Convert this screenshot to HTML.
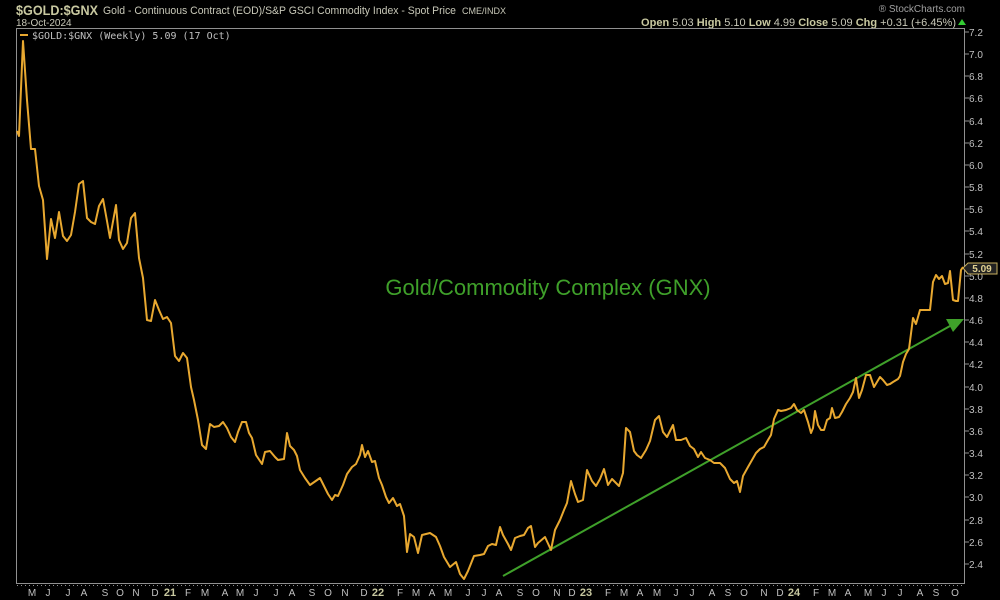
<!DOCTYPE html>
<html><head><meta charset="utf-8"><style>
html,body{margin:0;padding:0;background:#000;width:1000px;height:600px;overflow:hidden}
svg{display:block}
text{font-family:"Liberation Sans",sans-serif}
</style></head><body>
<svg width="1000" height="600" viewBox="0 0 1000 600" xmlns="http://www.w3.org/2000/svg">
<rect width="1000" height="600" fill="#000"/>
<text x="16" y="15" font-size="14" font-weight="bold" fill="#c8c8a0" textLength="82" lengthAdjust="spacingAndGlyphs">$GOLD:$GNX</text>
<text x="103" y="14" font-size="11" fill="#c8c8b8" textLength="353" lengthAdjust="spacingAndGlyphs">Gold - Continuous Contract (EOD)/S&amp;P GSCI Commodity Index - Spot Price</text>
<text x="462" y="14" font-size="9" fill="#c8c8b8">CME/INDX</text>
<text x="16" y="26" font-size="10" fill="#c8c8b8">18-Oct-2024</text>
<text x="965" y="12" font-size="10" fill="#a0a0a0" text-anchor="end">® StockCharts.com</text>
<text x="956" y="26" font-size="11" fill="#c8c8b8" text-anchor="end"><tspan font-weight="bold" fill="#c8c8a0">Open</tspan> 5.03  <tspan font-weight="bold" fill="#c8c8a0">High</tspan> 5.10  <tspan font-weight="bold" fill="#c8c8a0">Low</tspan> 4.99  <tspan font-weight="bold" fill="#c8c8a0">Close</tspan> 5.09  <tspan font-weight="bold" fill="#c8c8a0">Chg</tspan> +0.31 (+6.45%)</text>
<polygon points="958,25 962,19 966,25" fill="#3c3"/>
<rect x="16.5" y="28.5" width="948" height="555" fill="none" stroke="#909090" stroke-width="1"/>
<line x1="20" y1="35" x2="28" y2="35" stroke="#e8a830" stroke-width="2"/>
<text x="32" y="39" font-size="10" fill="#c0c0c0" style="font-family:'DejaVu Sans Mono',monospace">$GOLD:$GNX (Weekly) 5.09 (17 Oct)</text>
<g stroke="#909090">
<line x1="965" y1="32" x2="969" y2="32"/><line x1="965" y1="54" x2="969" y2="54"/><line x1="965" y1="76" x2="969" y2="76"/><line x1="965" y1="98" x2="969" y2="98"/><line x1="965" y1="121" x2="969" y2="121"/><line x1="965" y1="143" x2="969" y2="143"/><line x1="965" y1="165" x2="969" y2="165"/><line x1="965" y1="187" x2="969" y2="187"/><line x1="965" y1="209" x2="969" y2="209"/><line x1="965" y1="231" x2="969" y2="231"/><line x1="965" y1="254" x2="969" y2="254"/><line x1="965" y1="276" x2="969" y2="276"/><line x1="965" y1="298" x2="969" y2="298"/><line x1="965" y1="320" x2="969" y2="320"/><line x1="965" y1="342" x2="969" y2="342"/><line x1="965" y1="364" x2="969" y2="364"/><line x1="965" y1="387" x2="969" y2="387"/><line x1="965" y1="409" x2="969" y2="409"/><line x1="965" y1="431" x2="969" y2="431"/><line x1="965" y1="453" x2="969" y2="453"/><line x1="965" y1="475" x2="969" y2="475"/><line x1="965" y1="497" x2="969" y2="497"/><line x1="965" y1="520" x2="969" y2="520"/><line x1="965" y1="542" x2="969" y2="542"/><line x1="965" y1="564" x2="969" y2="564"/>
</g>
<g font-size="10" fill="#c0c0c0">
<text x="969" y="36">7.2</text><text x="969" y="58">7.0</text><text x="969" y="80">6.8</text><text x="969" y="102">6.6</text><text x="969" y="125">6.4</text><text x="969" y="147">6.2</text><text x="969" y="169">6.0</text><text x="969" y="191">5.8</text><text x="969" y="213">5.6</text><text x="969" y="235">5.4</text><text x="969" y="258">5.2</text><text x="969" y="280">5.0</text><text x="969" y="302">4.8</text><text x="969" y="324">4.6</text><text x="969" y="346">4.4</text><text x="969" y="368">4.2</text><text x="969" y="391">4.0</text><text x="969" y="413">3.8</text><text x="969" y="435">3.6</text><text x="969" y="457">3.4</text><text x="969" y="479">3.2</text><text x="969" y="501">3.0</text><text x="969" y="524">2.8</text><text x="969" y="546">2.6</text><text x="969" y="568">2.4</text>
</g>
<polygon points="963,268 968,263 997,263 997,274 968,274" fill="#222" stroke="#c8b060" stroke-width="1"/>
<text x="982" y="272" font-size="10" font-weight="bold" fill="#e0d090" text-anchor="middle">5.09</text>
<g font-size="10" fill="#c0c0c0" text-anchor="middle">
<text x="32" y="596">M</text><text x="48" y="596">J</text><text x="68" y="596">J</text><text x="84" y="596">A</text><text x="105" y="596">S</text><text x="120" y="596">O</text><text x="136" y="596">N</text><text x="155" y="596">D</text><text x="170" y="596" font-weight="bold" font-size="11" fill="#c8c8a0">21</text><text x="188" y="596">F</text><text x="205" y="596">M</text><text x="225" y="596">A</text><text x="240" y="596">M</text><text x="256" y="596">J</text><text x="276" y="596">J</text><text x="292" y="596">A</text><text x="312" y="596">S</text><text x="328" y="596">O</text><text x="345" y="596">N</text><text x="364" y="596">D</text><text x="378" y="596" font-weight="bold" font-size="11" fill="#c8c8a0">22</text><text x="400" y="596">F</text><text x="416" y="596">M</text><text x="432" y="596">A</text><text x="448" y="596">M</text><text x="468" y="596">J</text><text x="484" y="596">J</text><text x="499" y="596">A</text><text x="520" y="596">S</text><text x="536" y="596">O</text><text x="557" y="596">N</text><text x="572" y="596">D</text><text x="586" y="596" font-weight="bold" font-size="11" fill="#c8c8a0">23</text><text x="608" y="596">F</text><text x="624" y="596">M</text><text x="640" y="596">A</text><text x="657" y="596">M</text><text x="676" y="596">J</text><text x="692" y="596">J</text><text x="712" y="596">A</text><text x="728" y="596">S</text><text x="744" y="596">O</text><text x="764" y="596">N</text><text x="780" y="596">D</text><text x="794" y="596" font-weight="bold" font-size="11" fill="#c8c8a0">24</text><text x="816" y="596">F</text><text x="832" y="596">M</text><text x="848" y="596">A</text><text x="868" y="596">M</text><text x="884" y="596">J</text><text x="900" y="596">J</text><text x="920" y="596">A</text><text x="936" y="596">S</text><text x="955" y="596">O</text>
</g>
<line x1="17" y1="585.5" x2="965" y2="585.5" stroke="#909090" stroke-dasharray="1,3"/>
<text x="548" y="295" font-size="22" fill="#3fa02a" text-anchor="middle">Gold/Commodity Complex (GNX)</text>
<line x1="503" y1="576" x2="950" y2="326" stroke="#3fa02a" stroke-width="2"/>
<polygon points="964,319 946,319 953,332" fill="#3fa02a"/>
<polyline fill="none" stroke="#e8a830" stroke-width="2" stroke-linejoin="round" points="17,131 19,136 23,41 27,100 31,149 35,149 39,186 43,200 47,259 51,219 55,238 59,212 63,236 67,241 71,235 75,212 79,184 83,181 87,218 91,222 95,224 99,206 103,199 107,221 110,238 116,205 119,240 123,249 127,243 131,218 135,213 139,258 143,278 147,320 151,321 155,300 159,310 163,319 167,317 171,323 175,356 179,361 183,353 187,358 191,387 194,400 198,420 202,445 206,449 210,424 214,427 219,426 223,422 227,428 231,437 235,442 238,432 242,422 246,422 249,433 252,438 256,455 262,464 265,452 270,451 275,457 278,460 284,459 287,433 290,446 294,450 297,456 300,470 305,478 310,485 320,478 328,494 332,500 335,495 338,496 343,485 347,474 352,467 356,464 360,455 362,445 365,457 368,451 372,462 375,461 379,478 382,485 386,497 389,503 393,498 397,506 400,504 404,516 407,552 410,534 414,537 418,553 422,535 430,533 436,537 440,546 444,557 450,567 456,562 460,574 464,579 468,571 474,556 480,555 484,554 488,546 492,544 496,545 500,527 503,535 508,544 511,550 515,538 520,536 524,535 528,528 531,526 535,547 538,543 545,537 551,550 555,530 560,520 564,510 567,503 571,481 575,494 578,502 583,500 587,470 592,481 596,486 600,479 604,469 608,485 612,479 617,484 619,486 623,473 626,428 630,432 634,451 637,455 641,458 646,450 650,441 655,420 659,416 663,432 667,437 670,431 673,425 676,440 681,440 686,438 690,446 694,449 698,457 701,452 705,458 710,460 714,463 720,463 725,468 730,479 734,483 737,481 740,492 743,476 748,467 752,460 756,453 760,449 764,447 768,440 771,435 774,419 778,410 781,411 786,410 791,408 794,404 797,410 801,413 804,410 808,422 811,433 813,428 815,411 818,425 821,430 824,430 827,420 830,418 832,408 835,418 839,417 842,412 846,404 850,398 853,392 856,378 859,398 862,390 866,375 870,375 874,387 877,382 880,377 883,380 887,385 890,384 893,382 898,379 900,376 903,362 906,354 909,349 913,318 916,324 920,310 924,310 930,310 933,282 936,275 939,279 942,276 945,284 948,283 950,271 953,300 956,301 958,301 961,270 963,267"/>
</svg>
</body></html>
